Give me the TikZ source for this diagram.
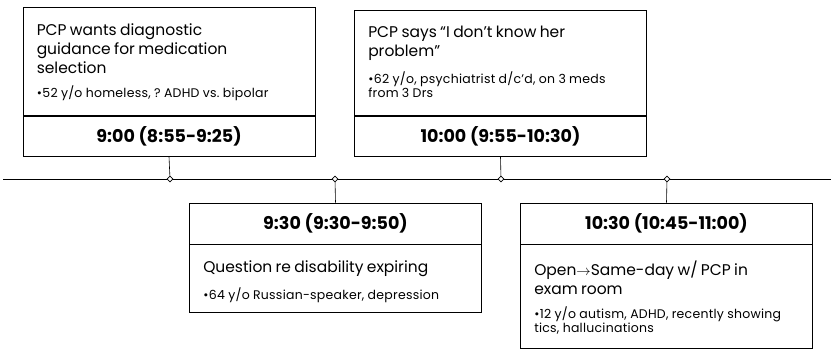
\documentclass[tikz,border=0pt]{standalone}
\usepackage{fontspec}
\setmainfont{Poppins}
\usetikzlibrary{shapes.geometric}

% text of one event: main line(s), then a bullet line
\newcommand{\evnote}[2]{%
  {\fontsize{15.5}{19}\selectfont #1\par}\vspace{10pt}%
  {\fontsize{12.5}{14}\selectfont\addfontfeature{LetterSpace=2}\hangindent=7pt\hangafter=1\noindent{\textbullet}\hspace{0.5pt}#2\par}}

\begin{document}
\frenchspacing
\begin{tikzpicture}[x=1pt, y=-1pt,
    frame/.style={draw, line width=0.9pt, minimum width=292pt, inner sep=0pt},
    timebox/.style={frame, minimum height=40pt, font=\fontsize{17.5}{20}\selectfont\bfseries},
    note/.style={anchor=base west, inner sep=0pt, text width=275pt, align=left},
    tick/.style={diamond, draw, fill=white, line width=0.6pt, minimum size=6pt, inner sep=0pt}]
    \useasboundingbox (0,0) rectangle (831,349);

    % Time line
    \coordinate (axL) at (3,179);
    \coordinate (axR) at (831,179);
    \draw[line width=0.9pt] (axL) -- (axR);

    % Events above the line
    \node[timebox] (t1) at (169,136) {9:00 (8:55-9:25)};
    \node[frame, minimum height=108pt, anchor=south] (n1) at (t1.north) {};
    \node[note] (x1) at ([shift={(14,29)}]n1.north west)
        {\evnote{PCP wants diagnostic\\guidance for medication\\selection}{52 y/o homeless, ? ADHD vs. bipolar}};

    \node[timebox] (t2) at (500.5,136) {10:00 (9:55-10:30)};
    \node[frame, minimum height=105pt, anchor=south] (n2) at (t2.north) {};
    \node[note] (x2) at ([shift={(14,28)}]n2.north west)
        {\evnote{PCP says “I don’t know her\\problem"}{62 y/o, psychiatrist d/c’d, on 3 meds\\from 3 Drs}};

    % Events below the line
    \node[timebox, minimum height=41pt] (t3) at (335.5,223.5) {9:30 (9:30-9:50)};
    \node[frame, minimum height=68pt, anchor=north] (n3) at (t3.south) {};
    \node[note] (x3) at ([shift={(14,28)}]n3.north west)
        {\evnote{Question re disability expiring}{64 y/o Russian-speaker, depression}};

    \node[timebox, minimum height=41pt] (t4) at (666.5,223.5) {10:30 (10:45-11:00)};
    \node[frame, minimum height=104pt, anchor=north] (n4) at (t4.south) {};
    \node[note] (x4) at ([shift={(14,31)}]n4.north west)
        {\evnote{Open$\rightarrow$Same-day w/ PCP in\\exam room}{12 y/o autism, ADHD, recently showing\\tics, hallucinations}};

    % Ticks on the line and their connectors
    \node[tick] (d1) at (170,179) {};
    \node[tick] (d2) at (501,179) {};
    \node[tick] (d3) at (335,179) {};
    \node[tick] (d4) at (667,179) {};
    \draw[line width=0.6pt] (t1.south) -- (d1);
    \draw[line width=0.6pt] (t2.south) -- (d2);
    \draw[line width=0.6pt] (t3.north) -- (d3);
    \draw[line width=0.6pt] (t4.north) -- (d4);
\end{tikzpicture}
\end{document}
